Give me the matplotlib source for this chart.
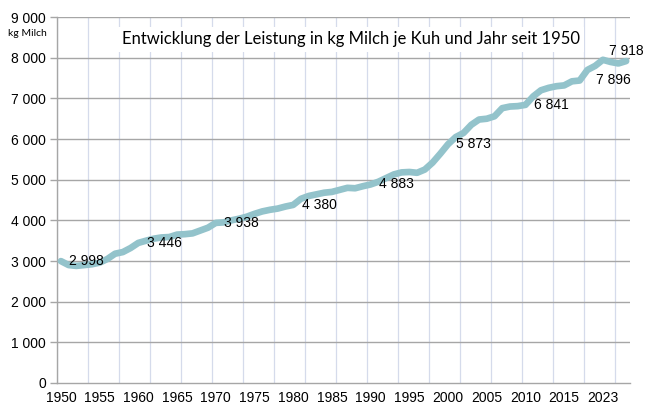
import numpy as np
import matplotlib.pyplot as plt
from matplotlib.ticker import FuncFormatter

# milk yield per cow and year (kg), one value per category
leistung = [2998, 2900, 2880, 2900, 2920, 2960, 3050, 3180, 3220, 3320,
            3446, 3500, 3550, 3580, 3590, 3650, 3660, 3680, 3750, 3820,
            3938, 3950, 4000, 4040, 4090, 4160, 4220, 4260, 4290, 4340,
            4380, 4530, 4600, 4640, 4680, 4700, 4750, 4800, 4790, 4840,
            4883, 4950, 5040, 5130, 5180, 5190, 5170, 5250, 5420, 5640,
            5873, 6050, 6150, 6350, 6480, 6500, 6560, 6760, 6800, 6810,
            6841, 7050, 7200, 7260, 7300, 7320, 7420, 7440, 7700, 7800,
            7950, 7896, 7860, 7918]

# x tick labels, every 5th category
tick_years = ['1950', '1955', '1960', '1965', '1970', '1975', '1980', '1985',
              '1990', '1995', '2000', '2005', '2010', '2015', '2023']

# labelled points: index, text, placement
labels_right = [0, 10, 20, 30, 40, 50, 60]
label_below = 71
label_above = 73

fmt = lambda v: '{:,}'.format(int(v)).replace(',', ' ')

fig = plt.figure(figsize=(6.54, 4.07), dpi=100)
ax = fig.add_axes([0.0872, 0.059, 0.8761, 0.899])

n = len(leistung)
x = np.arange(n)
ax.plot(x, leistung, color='#93c3cb', lw=4.8, solid_joinstyle='round',
        solid_capstyle='round', zorder=3)

ax.set_xlim(-0.5, n - 0.5)
ax.set_ylim(0, 9000)

# grid
ax.set_yticks(np.arange(0, 9001, 1000))
ax.yaxis.set_major_formatter(FuncFormatter(lambda v, p: fmt(v)))
for v in range(1000, 9001, 1000):
    ax.axhline(v, color='#a6a6a6', lw=1.0, zorder=1)
for b in np.arange(-0.5, n - 1, 4):
    ax.axvline(b, color='#d5dbeb', lw=0.9, zorder=0)

ax.set_xticks(np.arange(0, 71, 5))
ax.set_xticklabels(tick_years)
ax.tick_params(axis='x', length=0, pad=6, labelsize=10)
ax.tick_params(axis='y', length=5, color='#a6a6a6', width=1, pad=3, labelsize=10)
for lab in ax.get_xticklabels() + ax.get_yticklabels():
    lab.set_fontfamily('Liberation Sans')

for s in ['top', 'right']:
    ax.spines[s].set_visible(False)
for s in ['left', 'bottom']:
    ax.spines[s].set_color('#a6a6a6')
    ax.spines[s].set_linewidth(1.0)

# data labels
for i in labels_right:
    ax.annotate(fmt(leistung[i]), (i, leistung[i]), xytext=(6, 0),
                textcoords='offset points', ha='left', va='center',
                fontsize=10, family='Liberation Sans', zorder=4)
ax.annotate(fmt(leistung[label_below]), (label_below, leistung[label_below]),
            xytext=(2, -13), textcoords='offset points', ha='center', va='center',
            fontsize=10, family='Liberation Sans', zorder=4)
ax.annotate(fmt(leistung[label_above]), (label_above, leistung[label_above]),
            xytext=(0, 7), textcoords='offset points', ha='center', va='center',
            fontsize=10, family='Liberation Sans', zorder=4, annotation_clip=False)

fig.text(0.537, 0.903, 'Entwicklung der Leistung in kg Milch je Kuh und Jahr seit 1950',
         ha='center', va='center', fontsize=12, family='Lato',
         bbox=dict(facecolor='white', edgecolor='none', pad=3), zorder=5)
fig.text(0.012, 0.917, 'kg Milch', ha='left', va='center', fontsize=7.5, family='Lato')

fig.savefig('out.png', dpi=100)
